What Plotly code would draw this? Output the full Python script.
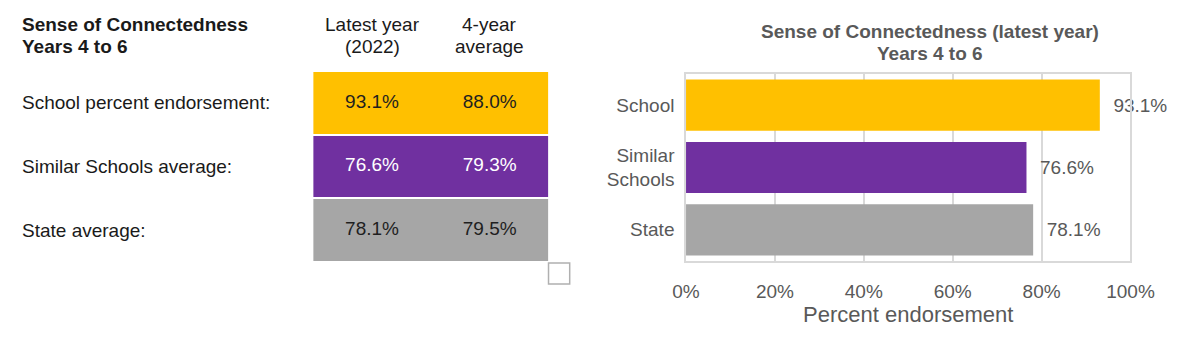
import plotly.graph_objects as go

# ---- data ----
table_title = ["Sense of Connectedness", "Years 4 to 6"]
col_keys = ["latest", "avg4"]
col_headers = [["Latest year", "(2022)"], ["4-year", "average"]]
row_keys = ["School", "Similar", "State"]
row_labels = ["School percent endorsement:", "Similar Schools average:", "State average:"]
latest_vals = [93.1, 76.6, 78.1]
avg4_vals = [88.0, 79.3, 79.5]

chart_title = ["Sense of Connectedness (latest year)", "Years 4 to 6"]
bar_categories = ["School", "Similar<br>Schools", "State"]
bar_values = [93.1, 76.6, 78.1]
x_ticks = [0, 20, 40, 60, 80, 100]
x_tick_labels = ["0%", "20%", "40%", "60%", "80%", "100%"]
x_title = "Percent endorsement"

# ---- styles ----
row_colors = ["#FFC000", "#7030A0", "#A6A6A6"]
row_text_colors = ["#1f1f1f", "#ffffff", "#1f1f1f"]
FONT = "Liberation Sans, Arial, sans-serif"
W, H = 1200, 350
header_line_y = [25, 46]      # pixel centres of the two header lines (left table)
title_line_y = [32, 54]       # pixel centres of the two title lines (right chart)

fig = go.Figure()

# left table: coloured cells (one colour per row) ...
row_index = [[i, i] for i in range(len(row_keys))]
fig.add_trace(go.Heatmap(
    x=col_keys, y=row_keys, z=row_index, zmin=0, zmax=len(row_keys) - 1,
    colorscale=[[0, row_colors[0]], [0.5, row_colors[1]], [1, row_colors[2]]],
    showscale=False, ygap=2, hoverinfo="skip", xaxis="x", yaxis="y",
))
# ... and the values written in them
cell_x, cell_y, cell_v, cell_c = [], [], [], []
for key, tcolor, a, b in zip(row_keys, row_text_colors, latest_vals, avg4_vals):
    for ck, v in zip(col_keys, (a, b)):
        cell_x.append(ck)
        cell_y.append(key)
        cell_v.append(v)
        cell_c.append(tcolor)
fig.add_trace(go.Scatter(
    x=cell_x, y=cell_y, mode="text", text=[f"{v:.1f}%" for v in cell_v],
    textfont=dict(family=FONT, size=19, color=cell_c), hoverinfo="skip",
    xaxis="x", yaxis="y",
))

# right bar chart
fig.add_trace(go.Bar(
    y=bar_categories, x=bar_values, orientation="h",
    marker=dict(color=row_colors, line=dict(width=0)),
    text=bar_values, texttemplate="  %{x:.1f}%", textposition="outside",
    textfont=dict(family=FONT, size=19, color="#595959"),
    cliponaxis=False, width=0.82, xaxis="x2", yaxis="y2", hoverinfo="skip",
))

annotations = []
for line, ly in zip(table_title, header_line_y):
    annotations.append(dict(text="<b>" + line + "</b>", xref="paper", yref="paper",
                            x=6 / W, y=1 - ly / H, xanchor="left", yanchor="middle",
                            showarrow=False, font=dict(family=FONT, size=19, color="#1a1a1a")))
for key, hdr in zip(col_keys, col_headers):
    for line, ly in zip(hdr, header_line_y):
        annotations.append(dict(text=line, xref="x", yref="paper", x=key, y=1 - ly / H,
                                xanchor="center", yanchor="middle", showarrow=False,
                                font=dict(family=FONT, size=19, color="#1a1a1a")))
for key, lab in zip(row_keys, row_labels):
    annotations.append(dict(text=lab, xref="paper", yref="y", x=6 / W, y=key,
                            xanchor="left", yanchor="middle", showarrow=False,
                            font=dict(family=FONT, size=19, color="#1a1a1a")))
for line, ly in zip(chart_title, title_line_y):
    annotations.append(dict(text="<b>" + line + "</b>", xref="paper", yref="paper",
                            x=946 / W, y=1 - ly / H, xanchor="center", yanchor="middle",
                            showarrow=False, font=dict(family=FONT, size=19, color="#595959")))

fig.update_layout(
    width=W, height=H, margin=dict(l=0, r=0, t=0, b=0),
    paper_bgcolor="white", plot_bgcolor="white", showlegend=False,
    font=dict(family=FONT, size=19, color="#595959"),
    xaxis=dict(domain=[309 / W, 552 / W], type="category", showticklabels=False, showgrid=False,
               zeroline=False, showline=False),
    yaxis=dict(domain=[1 - 262 / H, 1 - 71 / H], type="category", categoryorder="array",
               categoryarray=row_keys, autorange="reversed", showticklabels=False, showgrid=False,
               zeroline=False, showline=False),
    xaxis2=dict(domain=[694 / W, 1153 / W], anchor="y2", range=[0, 100], tickvals=x_ticks,
                ticktext=x_tick_labels, showgrid=True, gridcolor="#d9d9d9", gridwidth=1.5,
                zeroline=False, showline=True, mirror=True, linecolor="#d9d9d9", linewidth=1.5,
                ticks="", ticklabelstandoff=12,
                tickfont=dict(family=FONT, size=19, color="#595959"),
                title=dict(text=x_title, standoff=0, font=dict(family=FONT, size=22, color="#595959"))),
    yaxis2=dict(domain=[1 - 261 / H, 1 - 74 / H], anchor="x2", autorange="reversed",
                showgrid=False, zeroline=False, showline=True, mirror=True, linecolor="#d9d9d9",
                linewidth=1.5, ticks="", ticklabelstandoff=6,
                tickfont=dict(family=FONT, size=19, color="#595959")),
    annotations=annotations,
    shapes=[dict(type="rect", xref="x domain", yref="y domain", x0=1.0, x1=1.09, y0=-0.005, y1=-0.115,
                 line=dict(color="#b0b0b0", width=1.5), fillcolor="white")],
)

fig.write_html("out.html")
